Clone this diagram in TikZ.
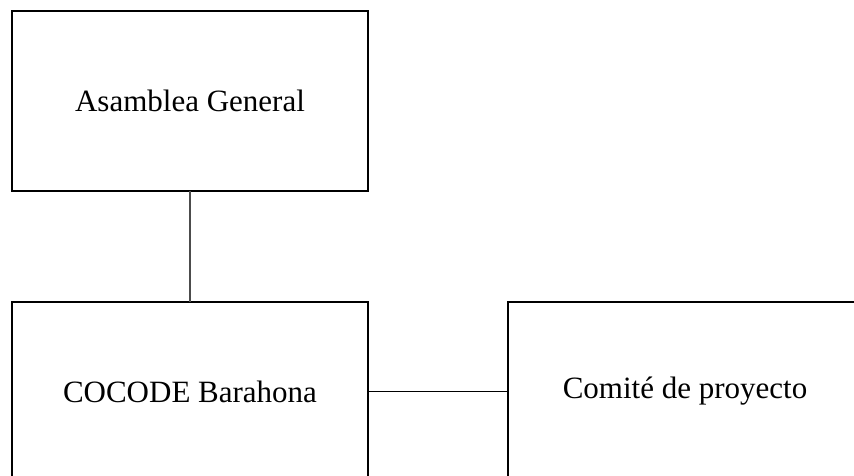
\documentclass[tikz,border=0pt]{standalone}
\usepackage{fontspec}
\setmainfont{Liberation Serif}
\usetikzlibrary{positioning}
\tikzset{
	caja/.style={draw=black, line width=2pt, rectangle, inner sep=0pt, outer sep=0pt,
		minimum width=356pt, minimum height=180pt, font=\fontsize{31}{36}\selectfont},
	enlace/.style={draw=black, line width=1.8pt},
}

\begin{document}
\begin{tikzpicture}[x=1pt,y=-1pt]
		% page frame, the lower boxes run off its edges
		\clip (0,0) rectangle (854,475);
		\fill[white] (0,0) rectangle (854,475);
		
		% boxes
		\node[caja] (asamblea) at (190,100.5) {Asamblea General};
		\node[caja, below=111pt of asamblea] (cocode) {COCODE Barahona};
		\node[caja, right=140pt of cocode, minimum width=354pt] (comite) {Comit\'e de proyecto};
		
		% connectors
		\draw[enlace, line width=1.2pt, black!70] (asamblea.south) -- (cocode.north);
		\draw[enlace] (cocode.east) -- (comite.west);
		
		\end{tikzpicture}
\end{document}
